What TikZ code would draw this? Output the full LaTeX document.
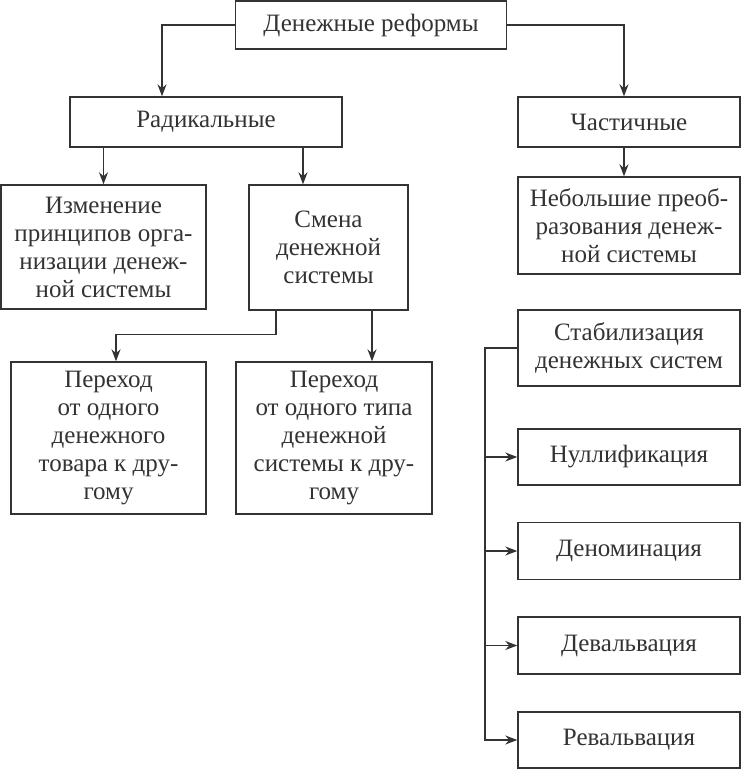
\documentclass[tikz,border=0pt]{standalone}
\usepackage{fontspec}
\setmainfont{Liberation Serif}
\usetikzlibrary{arrows.meta}
\definecolor{ink}{HTML}{333333}
\begin{document}
\begin{tikzpicture}[x=1pt,y=-1pt,
  box/.style={draw=ink,line width=1.4pt,align=center,inner sep=0pt,
    font=\fontsize{25}{28}\selectfont,text=ink},
  arr/.style={draw=ink,line width=1.3pt,-{Stealth[length=12pt,width=9pt]}},
  ln/.style={draw=ink,line width=1.3pt}]
\useasboundingbox[fill=white] (0,0) rectangle (742,770);
\node[box,minimum width=271,minimum height=48] (top) at (371,25) {Денежные реформы};
\node[box,minimum width=272,minimum height=50] (rad) at (206,122) {Радикальные};
\node[box,minimum width=222,minimum height=50] (part) at (629,122) {Частичные};
\node[box,minimum width=205,minimum height=124] (izm) at (103.5,247) {Изменение\\принципов орга-\\низации денеж-\\ной системы};
\node[box,minimum width=159,minimum height=125] (smena) at (328.5,247.5) {Смена\\денежной\\системы};
\node[box,minimum width=222,minimum height=97] (neb) at (629,225.5) {Небольшие преоб-\\разования денеж-\\ной системы};
\node[box,minimum width=222,minimum height=76] (stab) at (629,348) {Стабилизация\\денежных систем};
\node[box,minimum width=195,minimum height=152] (per1) at (108.5,438) {Переход\\от одного\\денежного\\товара к дру-\\гому};
\node[box,minimum width=196,minimum height=152] (per2) at (334,438) {Переход\\от одного типа\\денежной\\системы к дру-\\гому};
\node[box,minimum width=222,minimum height=56] (null) at (629,457) {Нуллификация};
\node[box,minimum width=222,minimum height=57] (denom) at (629,551) {Деноминация};
\node[box,minimum width=222,minimum height=57] (deval) at (629,645.5) {Девальвация};
\node[box,minimum width=222,minimum height=56] (reval) at (629,740) {Ревальвация};
% connectors
\coordinate (ra) at ([xshift=-44]rad.north);
\coordinate (pa) at ([xshift=-5]part.north);
\draw[arr] (top.west) -| (ra);
\draw[arr] (top.east) -| (pa);
\draw[arr] (rad.south -| izm.north) -- (izm.north);
\coordinate (sm) at ([xshift=-25.5]smena.north);
\draw[arr] (rad.south -| sm) -- (sm);
\coordinate (nb) at ([xshift=-5]neb.north);
\draw[arr] (part.south -| nb) -- (nb);
\coordinate (s1) at ([xshift=-52.5]smena.south);
\coordinate (p1) at ([xshift=7.5]per1.north);
\coordinate (s2) at ([xshift=43.5]smena.south);
\draw[arr] (s1) -- ++(0,24) -| (p1);
\draw[arr] (s2) -- (s2 |- per2.north);
\coordinate (bus) at (485,348);
\draw[arr] (stab.west) -- (stab.west -| bus) |- (reval.west);
\draw[arr] (null.west -| bus) -- (null.west);
\draw[arr] (denom.west -| bus) -- (denom.west);
\draw[arr] (deval.west -| bus) -- (deval.west);
\end{tikzpicture}
\end{document}
